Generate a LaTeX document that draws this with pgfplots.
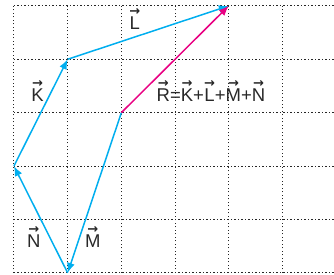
\documentclass[border=0pt]{standalone}
\usepackage{pgfplots}
\pgfplotsset{compat=1.18}
\usepackage{fontspec}
\setmainfont{Liberation Sans}
\newfontfamily\arrfont{DejaVu Sans}
\usetikzlibrary{arrows.meta}
\definecolor{vcyan}{RGB}{0,174,239}
\definecolor{vmag}{RGB}{232,0,130}
\definecolor{txt}{RGB}{40,40,40}
\newcommand\vv[1]{\leavevmode\vbox{\offinterlineskip\halign{\hfil##\hfil\cr{\arrfont\bfseries\fontsize{13}{13}\selectfont →}\cr\noalign{\kern2pt}#1\cr}}}
\begin{document}
\begin{tikzpicture}
\begin{axis}[
  x=53.7pt, y=53.4pt,
  xmin=0, xmax=5.96, ymin=0, ymax=5,
  axis line style={draw=none},
  xtick={0,1,2,3,4,5}, ytick={0,1,2,3,4,5},
  xticklabels={}, yticklabels={},
  tick style={draw=none},
  grid=major,
  major grid style={black!85, line width=1pt, dash pattern=on 1.3pt off 2.2pt},
  clip=false,
]
\addplot[vcyan, line width=1.5pt, -{Latex[length=10pt,width=8pt]}] coordinates {(2,3) (1,0)};
\addplot[vcyan, line width=1.5pt, -{Latex[length=10pt,width=8pt]}] coordinates {(1,0) (0,2)};
\addplot[vcyan, line width=1.5pt, -{Latex[length=10pt,width=8pt]}] coordinates {(0,2) (1,4)};
\addplot[vcyan, line width=1.5pt, -{Latex[length=10pt,width=8pt]}] coordinates {(1,4) (4,5)};
\addplot[vmag, line width=1.5pt, -{Latex[length=10pt,width=8pt]}] coordinates {(2,3) (4,5)};
\begin{scope}[every node/.style={text=txt, font=\fontsize{18.5}{20}\selectfont, inner sep=0pt, anchor=base}]
\node at (axis cs:2.25,4.55) {\vv{L}};
\node at (axis cs:0.44,3.20) {\vv{K}};
\node at (axis cs:0.37,0.47) {\vv{N}};
\node at (axis cs:1.47,0.47) {\vv{M}};
\node at (axis cs:3.67,3.20) {\vv{R}=\vv{K}+\vv{L}+\vv{M}+\vv{N}};
\end{scope}
\coordinate (bl) at (axis cs:-0.26,-0.037);
\coordinate (tr) at (axis cs:5.96,5.11);
\end{axis}
\pgfresetboundingbox
\path[use as bounding box] (bl) rectangle (tr);
\end{tikzpicture}
\end{document}
